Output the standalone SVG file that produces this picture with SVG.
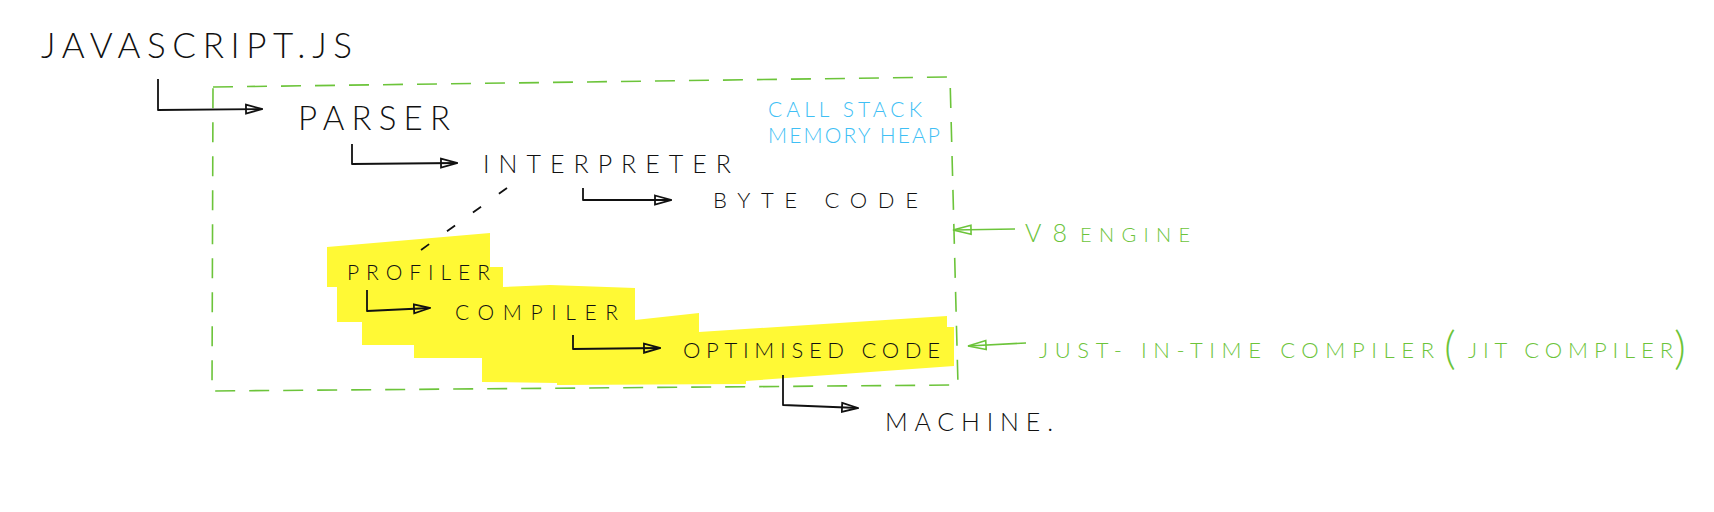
<svg xmlns="http://www.w3.org/2000/svg" width="1714" height="512" viewBox="0 0 1714 512">
<defs>
<style>
.t{font-family:Lato,"Liberation Sans",sans-serif;font-weight:300;fill:#111;}
.b{fill:#3fbff5;}
.g{fill:#6cc43a;}
.conn{fill:none;stroke:#111;stroke-width:1.8;stroke-linejoin:round;}
.gconn{fill:none;stroke:#6cc43a;stroke-width:1.6;}
.box{fill:none;stroke:#6cc43a;stroke-width:1.6;stroke-dasharray:20 14;}
</style>
<marker id="ah" viewBox="0 0 18 12" refX="17" refY="6" markerWidth="18" markerHeight="12" markerUnits="userSpaceOnUse" orient="auto">
<path d="M1,1.5 L17,6 L1,10.5 Z" fill="none" stroke="#111" stroke-width="1.8"/>
</marker>
<marker id="gh" viewBox="0 0 20 12" refX="19" refY="6" markerWidth="20" markerHeight="12" markerUnits="userSpaceOnUse" orient="auto">
<path d="M1,1.5 L19,6 L1,10.5 Z" fill="none" stroke="#6cc43a" stroke-width="1.6"/>
</marker>
</defs>
<rect width="1714" height="512" fill="#fff"/>
<g id="highlight">
<polygon fill="#fff935" points="327,247 490,233 490,267 503,267 503,287 550,285 635,288 635,320 699,313 699,332 947,316 947,327 954,327 954,366 746,381 746,384 557,385 557,383 482,382 482,358 414,358 414,345 362,345 362,322 337,322 337,287 327,287"/>
</g>
<g id="engine-box">
<path class="box" d="M213,87 L950,77 L958,385 L212,391 Z"/>
</g>
<g id="connectors">
<path class="conn" d="M158,79 L158,110 L262,109" marker-end="url(#ah)"/>
<path class="conn" d="M352,144 L352,164 L457,163" marker-end="url(#ah)"/>
<path class="conn" d="M583,188 L583,200 L671,200" marker-end="url(#ah)"/>
<path class="conn" d="M367,290 L367,311 L430,308" marker-end="url(#ah)"/>
<path class="conn" d="M573,335 L573,349 L660,348" marker-end="url(#ah)"/>
<path class="conn" d="M783,375 L783,405 L858,408" marker-end="url(#ah)"/>
<path class="conn" d="M507,188 L421,250" stroke-dasharray="10 22" stroke-width="1.4"/>
<path class="gconn" d="M1015,229 L953,230" marker-end="url(#gh)"/>
<path class="gconn" d="M1026,343 L968,346" marker-end="url(#gh)"/>
</g>
<g id="javascript"><text class="t" x="41" y="58" font-size="35" textLength="311" lengthAdjust="spacing">JAVASCRIPT.JS</text></g>
<g id="parser"><text class="t" x="298" y="130" font-size="33" textLength="152" lengthAdjust="spacing">PARSER</text></g>
<g id="interpreter"><text class="t" x="483" y="173" font-size="25" textLength="248" lengthAdjust="spacing">INTERPRETER</text></g>
<g id="bytecode"><text class="t" x="713" y="208" font-size="22" textLength="205" lengthAdjust="spacing">BYTE CODE</text></g>
<g id="memory">
<text class="t b" x="768" y="117" font-size="21" textLength="154" lengthAdjust="spacing">CALL STACK</text>
<text class="t b" x="768" y="143" font-size="21" textLength="172" lengthAdjust="spacing">MEMORY HEAP</text>
</g>
<g id="v8-label">
<text class="t g" x="1025" y="242" font-size="25" textLength="42" lengthAdjust="spacing">V8</text>
<text class="t g" x="1080" y="242" font-size="20" textLength="110" lengthAdjust="spacing">ENGINE</text>
</g>
<g id="jit-label">
<text class="t g" x="1039" y="358" font-size="22" textLength="395" lengthAdjust="spacing">JUST- IN-TIME COMPILER</text>
<text class="t g" x="1444" y="364" font-size="46">(</text>
<text class="t g" x="1468" y="358" font-size="22" textLength="205" lengthAdjust="spacing">JIT COMPILER</text>
<text class="t g" x="1674" y="364" font-size="46">)</text>
</g>
<g id="profiler"><text class="t" x="347" y="280" font-size="21" textLength="143" lengthAdjust="spacing">PROFILER</text></g>
<g id="compiler"><text class="t" x="455" y="320" font-size="21" textLength="163" lengthAdjust="spacing">COMPILER</text></g>
<g id="optimised"><text class="t" x="683" y="358" font-size="22" textLength="257" lengthAdjust="spacing">OPTIMISED CODE</text></g>
<g id="machine"><text class="t" x="885" y="431" font-size="25" textLength="168" lengthAdjust="spacing">MACHINE.</text></g>
</svg>
